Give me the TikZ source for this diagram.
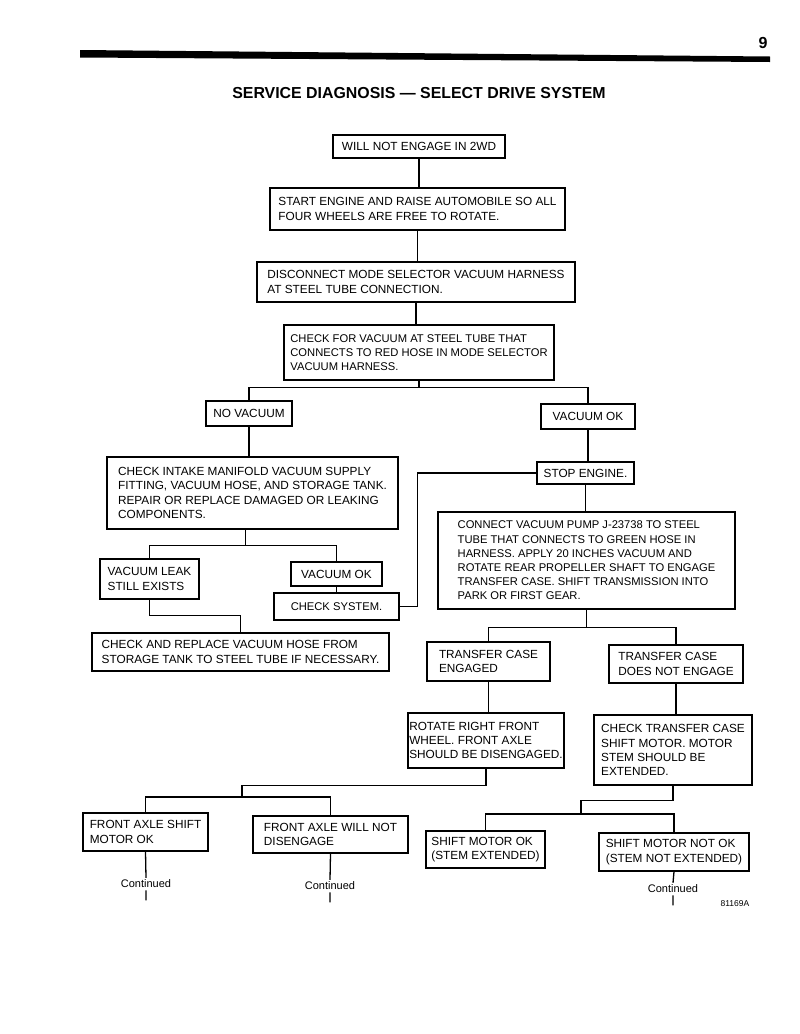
\documentclass[tikz,border=0pt]{standalone}
\usepackage{fontspec}
\setmainfont{Liberation Sans}

\begin{document}
\begin{tikzpicture}[x=1pt, y=-1pt,
    % Flow chart boxes
    stepbox/.style={rectangle, draw, line width=1.3pt, align=left, inner sep=1pt, font=\fontsize{11.8}{14.2}\selectfont},
    narrowtext/.style={font=\fontsize{11.2}{14.2}\selectfont},
    % Connectors
    link/.style={line width=1.3pt},
    % Continuation marks
    cont/.style={font=\fontsize{11}{13}\selectfont, inner sep=2pt}
]
\useasboundingbox (0,0) rectangle (800,1034);

% Page header
\fill (80,50) -- (770,56.5) -- (770,62) -- (80,57.5) -- cycle;
\node[font=\bfseries\fontsize{16}{18}\selectfont] (pageno) at (763,43) {9};
\node[font=\bfseries\fontsize{15.9}{18}\selectfont] (title) at (419,93) {SERVICE DIAGNOSIS \textemdash{} SELECT DRIVE SYSTEM};

% Main trunk
\node[stepbox, minimum width=172, minimum height=23] (noeng) at (419,146.5) {WILL NOT ENGAGE IN 2WD};
\node[stepbox, minimum width=295, minimum height=42] (start) at (417.5,209) {START ENGINE AND RAISE AUTOMOBILE SO ALL\\FOUR WHEELS ARE FREE TO ROTATE.};
\node[stepbox, minimum width=318, minimum height=40] (disconnect) at (416,282) {DISCONNECT MODE SELECTOR VACUUM HARNESS\\AT STEEL TUBE CONNECTION.};
\node[stepbox, narrowtext, minimum width=270, minimum height=55] (checkred) at (419,352.5) {CHECK FOR VACUUM AT STEEL TUBE THAT\\CONNECTS TO RED HOSE IN MODE SELECTOR\\VACUUM HARNESS.};
\node[stepbox, minimum width=86, minimum height=25] (novac) at (249,413.5) {NO VACUUM};
\node[stepbox, minimum width=94, minimum height=25] (vacok) at (588,416.5) {VACUUM OK};

% No vacuum branch
\node[stepbox, minimum width=291, minimum height=72] (intake) at (252.5,493) {CHECK INTAKE MANIFOLD VACUUM SUPPLY\\FITTING, VACUUM HOSE, AND STORAGE TANK.\\REPAIR OR REPLACE DAMAGED OR LEAKING\\COMPONENTS.};
\node[stepbox, minimum width=99, minimum height=40] (leak) at (149.5,579) {VACUUM LEAK\\STILL EXISTS};
\node[stepbox, minimum width=91, minimum height=24] (vacok2) at (336.5,574) {VACUUM OK};
\node[stepbox, narrowtext, minimum width=125, minimum height=27] (checksys) at (336.5,606.5) {CHECK SYSTEM.};
\node[stepbox, minimum width=297, minimum height=38] (hose) at (240.5,652) {CHECK AND REPLACE VACUUM HOSE FROM\\STORAGE TANK TO STEEL TUBE IF NECESSARY.};

% Vacuum OK branch
\node[stepbox, minimum width=97, minimum height=22] (stop) at (585.5,473) {STOP ENGINE.};
\node[stepbox, narrowtext, minimum width=297, minimum height=97] (pump) at (586.5,560.5) {CONNECT VACUUM PUMP J-23738 TO STEEL\\TUBE THAT CONNECTS TO GREEN HOSE IN\\HARNESS. APPLY 20 INCHES VACUUM AND\\ROTATE REAR PROPELLER SHAFT TO ENGAGE\\TRANSFER CASE. SHIFT TRANSMISSION INTO\\PARK OR FIRST GEAR.};
\node[stepbox, minimum width=123, minimum height=39] (engaged) at (488.5,661.5) {TRANSFER CASE\\ENGAGED};
\node[stepbox, minimum width=134, minimum height=38] (noengage) at (676,664) {TRANSFER CASE\\DOES NOT ENGAGE};
\node[stepbox, minimum width=156, minimum height=55] (rotate) at (486,740.5) {ROTATE RIGHT FRONT\\WHEEL. FRONT AXLE\\SHOULD BE DISENGAGED.};
\node[stepbox, minimum width=158, minimum height=70] (motor) at (673,750) {CHECK TRANSFER CASE\\SHIFT MOTOR. MOTOR\\STEM SHOULD BE\\EXTENDED.};

% Bottom row
\node[stepbox, minimum width=125, minimum height=38] (axleok) at (145.5,832) {FRONT AXLE SHIFT\\MOTOR OK};
\node[stepbox, minimum width=155, minimum height=37] (axlestuck) at (330.5,834.5) {FRONT AXLE WILL NOT\\DISENGAGE};
\node[stepbox, minimum width=119, minimum height=37] (motorok) at (485.5,849.5) {SHIFT MOTOR OK\\(STEM EXTENDED)};
\node[stepbox, minimum width=150, minimum height=38] (motorbad) at (674,852) {SHIFT MOTOR NOT OK\\(STEM NOT EXTENDED)};
\node[cont] (contA) at (146,884) {Continued};
\node[cont] (contB) at (330,886) {Continued};
\node[cont] (contC) at (673,889) {Continued};
\node[font=\fontsize{8.5}{10}\selectfont] (figno) at (735,904) {81169A};

% Connections - main trunk
\draw[link] (noeng.south) -- (noeng.south |- start.north);
\draw[link] (start.south) -- (start.south |- disconnect.north);
\draw[link] (disconnect.south) -- (disconnect.south |- checkred.north);
\draw[link] (checkred.south) -- ++(0,7) -| (novac.north);
\draw[link] (checkred.south) ++(0,7) -| (vacok.north);

% Connections - no vacuum
\draw[link] (novac.south) -- (novac.south |- intake.north);
\draw[link] ([xshift=-7pt]intake.south) -- ++(0,16) -| (leak.north);
\draw[link] ([xshift=-7pt]intake.south) ++(0,16) -| (vacok2.north);
\draw[link] (vacok2.south) -- (checksys.north);
\draw[link] (leak.south) -- ++(0,16) -| (hose.north);

% Connections - vacuum ok
\draw[link] (vacok.south) -- (vacok.south |- stop.north);
\draw[link] (stop.west) -- ++(-119,0) |- (checksys.east);
\draw[link] (stop.south) -- (stop.south |- pump.north);
\draw[link] (pump.south) -- ++(0,18) -| (engaged.north);
\draw[link] (pump.south) ++(0,18) -| (noengage.north);
\draw[link] (engaged.south) -- (engaged.south |- rotate.north);
\draw[link] (noengage.south) -- (noengage.south |- motor.north);

% Front axle checks
\coordinate (axlefork) at (242,797);
\draw[link] (rotate.south) -- ++(0,17) -| (axlefork);
\draw[link] (axleok.north) |- (axlefork) -| (axlestuck.north);

% Shift motor checks
\coordinate (motorfork) at (581,814);
\draw[link] (motor.south) -- ++(0,15) -| (motorfork);
\draw[link] (motorok.north) |- (motorfork) -| (motorbad.north);

% Continuations
\foreach \b/\c in {axleok/contA, axlestuck/contB, motorbad/contC}
  \draw[link] (\b.south) -- (\c.north) (\c.south) -- ++(0,10);
\end{tikzpicture}
\end{document}
